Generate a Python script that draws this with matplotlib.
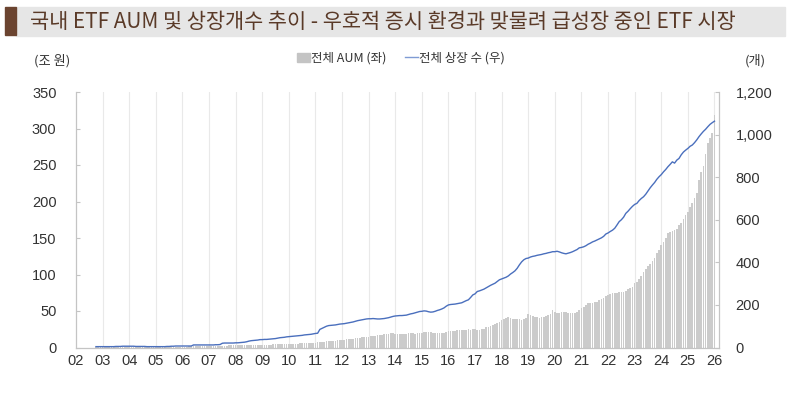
import numpy as np
import matplotlib.pyplot as plt
from matplotlib.patches import Rectangle
from matplotlib.lines import Line2D

plt.rcParams['font.family'] = ['Noto Sans CJK KR', 'DejaVu Sans']

# 월말 기준, 2002년 10월부터 2026년 1월까지
start_year = 2002
start_month = 10

# 전체 AUM (조 원)
aum = [
    0.35, 0.36, 0.34,
    0.35, 0.34, 0.33, 0.36, 0.38, 0.40, 0.42, 0.44, 0.43, 0.45, 0.46, 0.44,
    0.45, 0.48, 0.50, 0.47, 0.45, 0.46, 0.48, 0.50, 0.52, 0.55, 0.58, 0.60,
    0.62, 0.68, 0.70, 0.72, 0.78, 0.85, 0.95, 1.00, 1.10, 1.20, 1.25, 1.30,
    1.30, 1.32, 1.35, 1.38, 1.40, 1.42, 1.45, 1.50, 1.52, 1.55, 1.58, 1.50,
    1.6, 1.7, 1.8, 1.9, 2.0, 2.2, 2.4, 2.5, 2.6, 2.8, 2.9, 2.9,
    2.9, 3.0, 3.1, 3.2, 3.3, 3.3, 3.2, 3.3, 3.4, 3.5, 3.4, 3.4,
    3.5, 3.6, 3.8, 4.0, 4.1, 4.2, 4.3, 4.4, 4.5, 4.5, 4.6, 4.6,
    4.8, 4.9, 5.0, 5.2, 5.3, 5.5, 5.6, 5.8, 6.0, 6.1, 6.2, 6.1,
    6.5, 7.0, 7.5, 7.8, 8.0, 8.3, 8.5, 9.0, 9.2, 9.5, 9.7, 9.9,
    10.3, 10.8, 11.2, 11.5, 12.0, 12.3, 12.6, 13.0, 13.5, 14.0, 14.3, 14.7,
    15.0, 15.5, 16.0, 16.4, 16.8, 17.2, 17.8, 18.2, 18.6, 19.0, 19.2, 19.4,
    19.0, 18.8, 18.5, 18.6, 18.8, 19.0, 19.3, 19.5, 19.2, 19.0, 19.5, 19.8,
    20.3, 20.8, 21.0, 21.5, 21.2, 20.5, 20.0, 19.5, 19.2, 19.8, 20.5, 21.6,
    22.0, 22.3, 22.8, 23.0, 23.3, 23.5, 23.8, 24.2, 24.5, 24.7, 24.6, 25.1,
    25.0, 24.6, 24.3, 25.0, 26.0, 27.5, 28.6, 29.5, 30.5, 32.0, 34.0, 35.6,
    37.5, 39.0, 40.5, 41.2, 40.0, 39.2, 39.0, 38.5, 38.6, 38.2, 39.5, 41.0,
    45.5, 44.0, 43.0, 42.0, 41.5, 41.0, 41.2, 42.0, 43.5, 44.6, 46.0, 51.7,
    49.0, 47.0, 47.5, 48.0, 48.2, 48.0, 47.5, 47.2, 47.0, 47.3, 49.0, 52.0,
    54.0, 56.0, 58.0, 60.6, 61.0, 60.6, 62.0, 63.0, 65.0, 66.0, 68.0, 71.0,
    72.0, 73.0, 74.0, 74.0, 75.0, 75.5, 76.0, 76.6, 78.0, 80.0, 81.0, 83.0,
    88.0, 90.0, 94.0, 98.0, 104.0, 107.0, 112.0, 115.0, 119.0, 122.0, 129.0, 134.0,
    140.0, 145.0, 150.0, 157.0, 158.0, 159.0, 161.0, 163.0, 168.0, 170.0, 176.0, 182.0,
    186.0, 192.0, 198.0, 205.0, 212.0, 230.0, 240.0, 248.0, 265.0, 280.0, 287.0, 294.0,
    319.0,
]

# 전체 상장 수 (개)
listed = [
    4, 4, 4,
    4, 4, 4, 4, 4, 4, 5, 5, 5, 6, 6, 6,
    6, 6, 6, 5, 5, 5, 5, 5, 4, 4, 4, 4,
    4, 4, 4, 4, 4, 5, 5, 6, 6, 7, 7, 7,
    7, 7, 7, 7, 7, 12, 12, 12, 12, 12, 12, 12,
    12, 12, 12, 13, 13, 14, 20, 21, 21, 21, 21, 21,
    22, 22, 23, 24, 25, 27, 30, 32, 33, 34, 35, 37,
    37, 38, 38, 39, 40, 41, 42, 44, 46, 47, 48, 50,
    51, 52, 53, 54, 55, 56, 57, 59, 60, 61, 62, 64,
    66, 67, 85, 90, 95, 100, 103, 104, 105, 106, 108, 110,
    111, 112, 114, 116, 118, 120, 123, 126, 128, 130, 132, 134,
    135, 135, 136, 135, 134, 134, 135, 136, 138, 140, 143, 146,
    148, 149, 150, 150, 151, 152, 155, 158, 160, 163, 166, 169,
    170, 172, 171, 168, 166, 167, 170, 174, 177, 181, 186, 194,
    200, 202, 203, 204, 206, 208, 210, 215, 220, 224, 235, 247,
    252, 263, 266, 270, 274, 280, 286, 292, 297, 302, 310, 318,
    322, 326, 330, 336, 345, 352, 360, 372, 388, 402, 412, 418,
    420, 425, 428, 430, 433, 435, 437, 440, 442, 445, 447, 450,
    450, 452, 449, 445, 442, 440, 443, 446, 450, 455, 460, 468,
    470, 473, 478, 485, 490, 496, 500, 505, 510, 515, 522, 533,
    538, 545, 551, 560, 575, 591, 600, 612, 630, 640, 652, 663,
    672, 677, 690, 700, 708, 720, 735, 750, 763, 775, 790, 802,
    812, 825, 836, 849, 860, 872, 866, 880, 888, 905, 918, 927,
    935, 945, 951, 962, 975, 990, 1003, 1015, 1025, 1037, 1048, 1056,
    1063,
]

years = list(range(2002, 2027))
year_labels = [f"{y % 100:02d}" for y in years]
left_ticks = [0, 50, 100, 150, 200, 250, 300, 350]
right_ticks = [0, 200, 400, 600, 800, 1000, 1200]

t = start_year + (start_month - 1) / 12 + np.arange(len(aum)) / 12

fig = plt.figure(figsize=(8, 3.95), dpi=100)

# 제목 띠
fig.patches.append(Rectangle((16 / 800, 1 - 36 / 395), 769 / 800, 29 / 395,
                             transform=fig.transFigure, color='#e6e6e6', zorder=0))
fig.patches.append(Rectangle((5 / 800, 1 - 35 / 395), 11 / 800, 28 / 395,
                             transform=fig.transFigure, color='#6b4430', zorder=1))
fig.text(30 / 800, 1 - 21.5 / 395,
         '국내 ETF AUM 및 상장개수 추이 - 우호적 증시 환경과 맞물려 급성장 중인 ETF 시장',
         fontsize=15, color='#5a3a28', va='center', ha='left', fontweight='medium')

ax = fig.add_axes([76 / 800, 47.5 / 395, 643 / 800, 255.5 / 395])
ax2 = ax.twinx()

for y in years[1:]:
    ax.axvline(y, color='#e9e9e9', lw=0.8, zorder=0)

ax.bar(t, aum, width=0.75 / 12, color='#cbcbcb', align='center', zorder=2)
ax2.plot(t, listed, color='#4a6fbd', lw=1.0, zorder=3)

ax.set_xlim(2002, 2026.17)
ax.set_ylim(0, 350)
ax2.set_ylim(0, 1200)
ax.set_xticks(years)
ax.set_xticklabels(year_labels)
ax.set_yticks(left_ticks)
ax2.set_yticks(right_ticks)
ax2.set_yticklabels([f"{v:,}" for v in right_ticks])

tick_font = ['Liberation Sans', 'Noto Sans CJK KR']
for a in (ax, ax2):
    a.spines['top'].set_visible(False)
    for s in ('left', 'right', 'bottom'):
        a.spines[s].set_color('#c4c4c4')
        a.spines[s].set_linewidth(0.8)
    for lab in a.get_xticklabels() + a.get_yticklabels():
        lab.set_family(tick_font)
        lab.set_fontsize(10.5)
        lab.set_color('#333333')
ax.tick_params(axis='x', length=0, pad=5)
ax.tick_params(axis='y', direction='in', length=3, color='#c4c4c4', pad=14)
ax2.tick_params(axis='y', direction='in', length=3, color='#c4c4c4', pad=12)
ax.set_zorder(ax2.get_zorder() - 1)
ax2.patch.set_visible(False)
ax.patch.set_visible(False)

fig.text(52 / 800, 1 - 61 / 395, '(조 원)', fontsize=9.5, color='#333333',
         ha='center', va='center')
fig.text(755 / 800, 1 - 61 / 395, '(개)', fontsize=9.5, color='#333333',
         ha='center', va='center')

handles = [Rectangle((0, 0), 1, 1, color='#c4c4c4'),
           Line2D([0], [0], color='#7f9bd4', lw=1.0)]
fig.legend(handles, ['전체 AUM (좌)', '전체 상장 수 (우)'], loc='center',
           bbox_to_anchor=(401 / 800, 1 - 58 / 395), ncol=2, frameon=False,
           fontsize=9, handlelength=1.0, handletextpad=0.1, columnspacing=1.5,
           labelcolor='#333333')

fig.savefig('out.png', dpi=100)
